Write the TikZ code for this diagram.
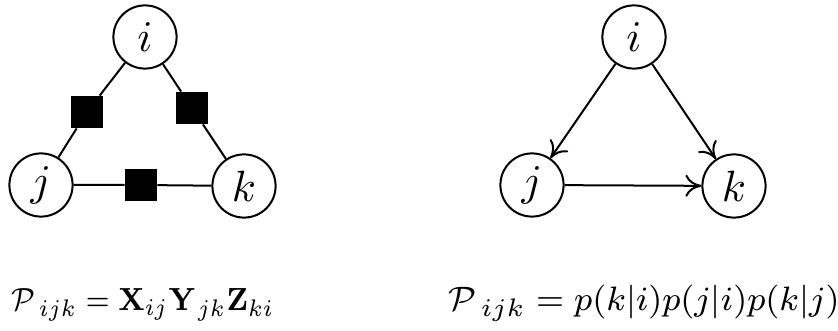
\documentclass[tikz,border=0pt]{standalone}
\usepackage{amsmath,amssymb,graphicx}
\usetikzlibrary{arrows.meta}
\begin{document}
\begin{tikzpicture}[x=0.25pt,y=-0.25pt,
  var/.style={draw,circle,line width=0.5pt,minimum size=15.8pt,inner sep=0pt,font=\fontsize{11}{13}\selectfont},
  fac/.style={fill=black,draw=black,minimum size=7.8pt,inner sep=0pt},
  edge/.style={line width=0.5pt},
  arr/.style={line width=0.5pt,-{To[length=4pt,width=5.5pt]}},
  eq/.style={anchor=base west,inner sep=0pt}]
\useasboundingbox (0,0) rectangle (838,331);
% left factor graph
\node[var] (i1) at (145,37) {$i$};
\node[var] (j1) at (41,185) {$j$};
\node[var] (k1) at (244,186) {$k$};
\node[fac] (f1) at (87,112) {};
\node[fac] (f2) at (192,108) {};
\node[fac] (f3) at (141,185) {};
\draw[edge] (i1) -- (f1) -- (j1);
\draw[edge] (i1) -- (f2) -- (k1);
\draw[edge] (j1) -- (f3) -- (k1);
% right directed graph
\node[var] (i2) at (634,37) {$i$};
\node[var] (j2) at (532,185) {$j$};
\node[var] (k2) at (734,186) {$k$};
\draw[arr] (i2) -- (j2);
\draw[arr] (i2) -- (k2);
\draw[arr] (j2) -- (k2);
% formulas
\node[eq,font=\fontsize{8}{10}\selectfont] (eq1) at (11,311) {\scalebox{0.9}[1]{$\mathcal{P}\mkern2mu_{ijk}=\mathbf{X}_{ij}\mathbf{Y}\mkern1mu_{jk}\mathbf{Z}_{ki}$}};
\node[eq,font=\fontsize{8.5}{11}\selectfont] (eq2) at (448,311) {\scalebox{1.06}{$\mathcal{P}\mkern2mu_{ijk}=p(k|i)p(j|i)p(k|j)$}};
\end{tikzpicture}
\end{document}
